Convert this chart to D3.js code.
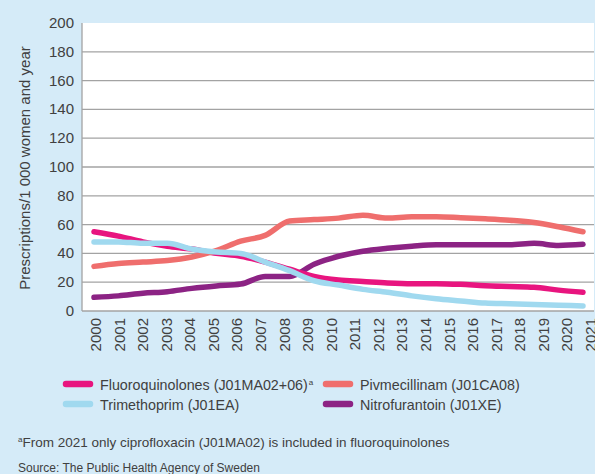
<!DOCTYPE html>
<html>
  <head>
    <meta charset="utf-8" />
    <title>Urinary tract antibiotics, women</title>
    <script src="https://d3js.org/d3.v7.min.js"></script>
    <style>
      body { margin: 0; background: #d5ebf8; }
      svg { display: block; font-family: "Liberation Sans", Arial, sans-serif; }
    </style>
  </head>
  <body>
    <svg width="595" height="474"></svg>

    <script>
      // Data
      const years = d3.range(2000, 2021);
      const axisYears = d3.range(2000, 2022);
      const yTicks = [0, 20, 40, 60, 80, 100, 120, 140, 160, 180, 200];

      const fluoroquinolones = [55, 52, 48, 45, 43, 40, 38, 34, 29, 24, 21.5, 20.5, 19.5, 19, 19, 18.5, 17.5, 17, 16.5, 14.5, 13];
      const pivmecillinam = [31, 33, 34, 35, 37.5, 42, 48.5, 52.5, 62.5, 63.5, 64.5, 66.5, 64.5, 65.5, 65.5, 64.8, 64, 63, 61.5, 58.5, 55];
      const trimethoprim = [48, 48, 47, 47, 43, 41, 40, 34, 28, 21, 18, 15, 13, 10.5, 8.5, 7, 5.5, 5, 4.5, 4, 3.5];
      const nitrofurantoin = [9.5, 10.5, 12.3, 13.4, 15.7, 17.4, 18.7, 24, 24, 32.5, 38, 41.5, 43.5, 45, 46, 46, 46, 46, 47, 45.5, 46.3];

      const series = [
        { name: "Nitrofurantoin (J01XE)", values: nitrofurantoin, color: "#8c2384" },
        { name: "Fluoroquinolones (J01MA02+06)", values: fluoroquinolones, color: "#e8157f" },
        { name: "Pivmecillinam (J01CA08)", values: pivmecillinam, color: "#ef6e6d" },
        { name: "Trimethoprim (J01EA)", values: trimethoprim, color: "#a0d9ef" },
      ];

      const svg = d3.select("svg");
      const plotLeft = 82, plotRight = 594, plotTop = 23, plotBottom = 311;
      const textColor = "#404040";

      const x = d3.scalePoint().domain(years).range([94, 583]);
      const xLabel = d3.scalePoint().domain(axisYears).range([101, 596]);
      const y = d3.scaleLinear().domain([0, 200]).range([plotBottom, plotTop]);

      // plot background
      svg.append("rect")
        .attr("x", plotLeft).attr("y", plotTop)
        .attr("width", plotRight - plotLeft).attr("height", plotBottom - plotTop)
        .attr("fill", "#fff");

      // grid lines
      svg.selectAll(".grid")
        .data(yTicks.filter((d) => d < 200))
        .enter()
        .append("line")
        .attr("x1", plotLeft).attr("x2", plotRight)
        .attr("y1", (d) => y(d)).attr("y2", (d) => y(d))
        .attr("stroke", "#a3a3a3")
        .attr("stroke-width", 1.3);

      svg.append("line")
        .attr("x1", plotLeft).attr("x2", plotLeft)
        .attr("y1", plotTop).attr("y2", plotBottom)
        .attr("stroke", "#a3a3a3").attr("stroke-width", 1.3);

      // y tick labels
      svg.selectAll(".ytick")
        .data(yTicks)
        .enter()
        .append("text")
        .attr("x", 74)
        .attr("y", (d) => y(d) + 5)
        .attr("text-anchor", "end")
        .attr("font-size", "15px")
        .attr("fill", textColor)
        .text((d) => d);

      // x tick labels (rotated); 2021 runs off the right edge as in the original
      svg.selectAll(".xtick")
        .data(axisYears)
        .enter()
        .append("text")
        .attr("transform", (d) => `translate(${xLabel(d)},318) rotate(-90)`)
        .attr("text-anchor", "end")
        .attr("font-size", "15px")
        .attr("fill", textColor)
        .text((d) => d);

      // y axis title
      svg.append("text")
        .attr("transform", "translate(30,168) rotate(-90)")
        .attr("text-anchor", "middle")
        .attr("font-size", "15px")
        .attr("fill", textColor)
        .text("Prescriptions/1 000 women and year");

      // lines
      const line = d3.line()
        .x((d, i) => x(years[i]))
        .y((d) => y(d))
        .curve(d3.curveMonotoneX);

      svg.selectAll(".series")
        .data(series)
        .enter()
        .append("path")
        .attr("d", (d) => line(d.values))
        .attr("fill", "none")
        .attr("stroke", (d) => d.color)
        .attr("stroke-width", 5.5)
        .attr("stroke-linecap", "round")
        .attr("stroke-linejoin", "round");

      // legend
      const legendItems = [
        { name: "Fluoroquinolones (J01MA02+06)", sup: "a", color: "#e8157f", lx: 66, ly: 384 },
        { name: "Pivmecillinam (J01CA08)", color: "#ef6e6d", lx: 326, ly: 384 },
        { name: "Trimethoprim (J01EA)", color: "#a0d9ef", lx: 66, ly: 404 },
        { name: "Nitrofurantoin (J01XE)", color: "#8c2384", lx: 326, ly: 404 },
      ];

      const legend = svg.selectAll(".legend")
        .data(legendItems)
        .enter()
        .append("g")
        .attr("transform", (d) => `translate(${d.lx},${d.ly})`);

      legend.append("line")
        .attr("x1", 0).attr("x2", 24)
        .attr("stroke", (d) => d.color)
        .attr("stroke-width", 6.5)
        .attr("stroke-linecap", "round");

      const legendText = legend.append("text")
        .attr("x", 34)
        .attr("y", 5.5)
        .attr("font-size", "14.3px")
        .attr("fill", textColor)
        .text((d) => d.name);

      legendText.filter((d) => d.sup)
        .append("tspan")
        .attr("font-size", "8px")
        .attr("dx", 1)
        .attr("dy", -5)
        .text((d) => d.sup);

      // footnote and source
      const note = svg.append("text")
        .attr("x", 18)
        .attr("y", 447)
        .attr("font-size", "13.5px")
        .attr("fill", textColor);
      note.append("tspan").attr("font-size", "8px").attr("dy", -5).text("a");
      note.append("tspan").attr("dy", 5).text("From 2021 only ciprofloxacin (J01MA02) is included in fluoroquinolones");

      svg.append("text")
        .attr("x", 18)
        .attr("y", 472)
        .attr("font-size", "12px")
        .attr("fill", textColor)
        .text("Source: The Public Health Agency of Sweden");
    </script>
  </body>
</html>
